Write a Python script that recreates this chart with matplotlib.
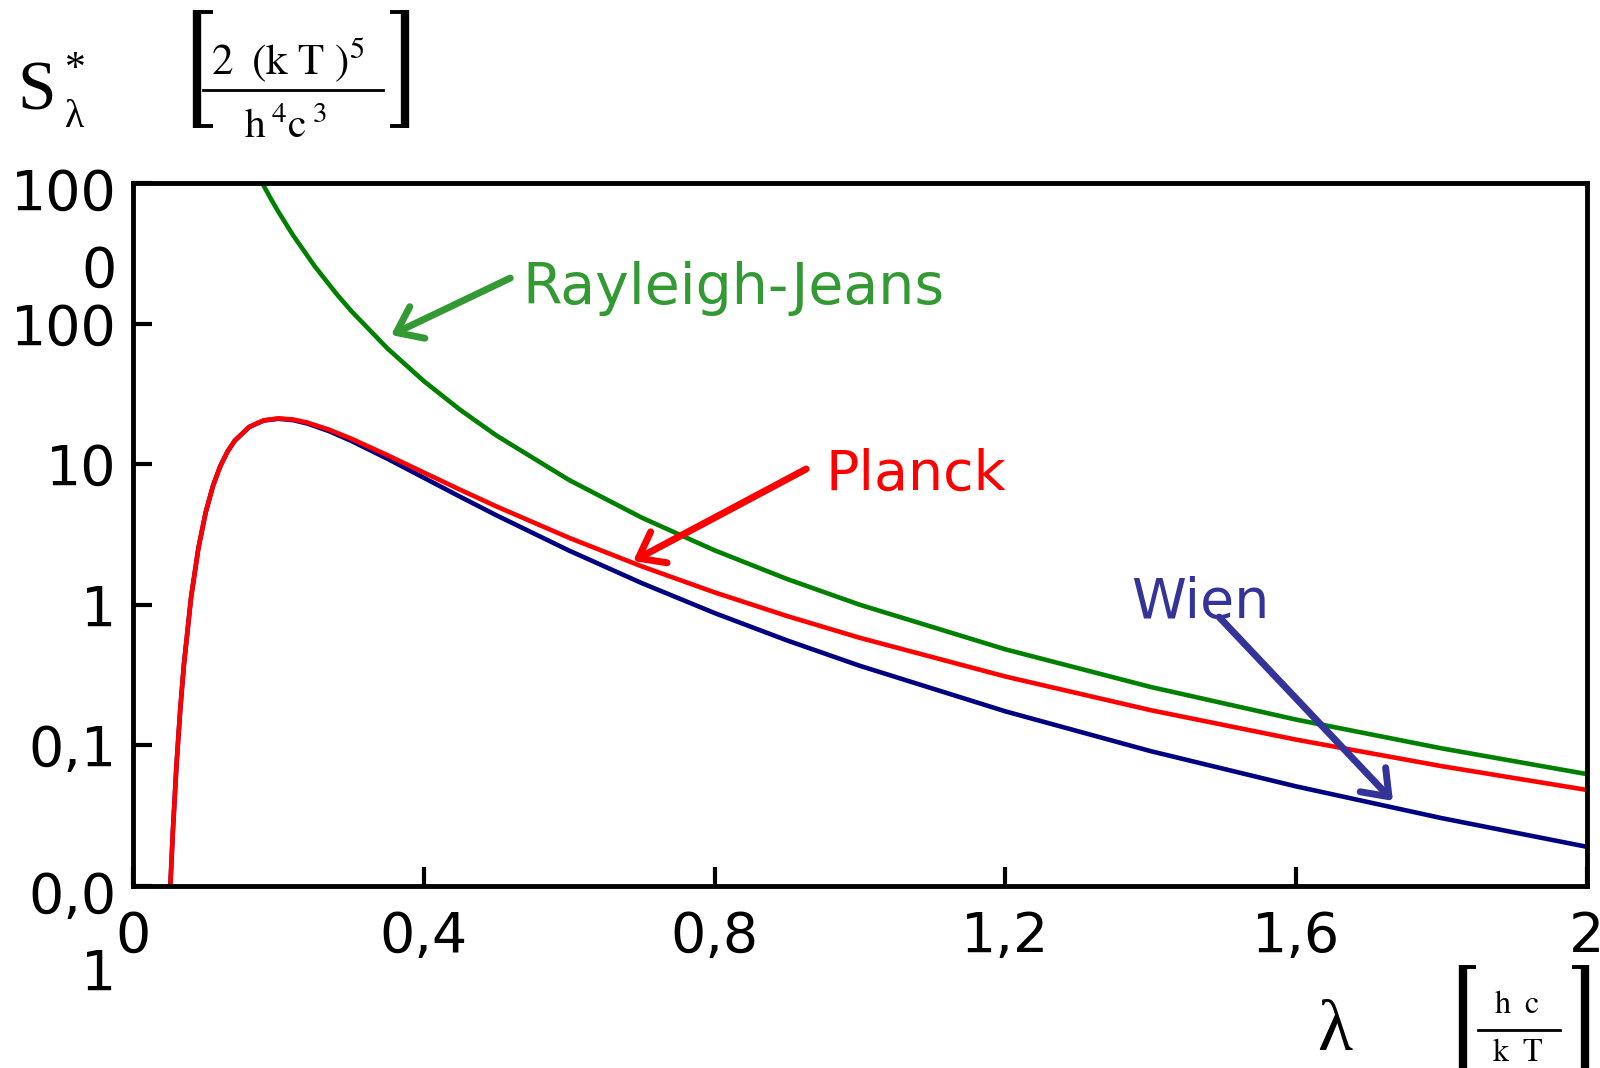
import matplotlib
matplotlib.use('Agg')
import matplotlib.pyplot as plt
from matplotlib.lines import Line2D
from matplotlib.transforms import ScaledTranslation

## wavelength grid (units of hc/kT) and spectral radiance values
lam_pw = [0.0515, 0.055, 0.06, 0.065, 0.07, 0.08, 0.09, 0.10, 0.11, 0.12, 0.13, 0.14,
          0.16, 0.18, 0.20, 0.22, 0.24, 0.27, 0.30, 0.35, 0.40, 0.45, 0.50, 0.60,
          0.70, 0.80, 0.90, 1.0, 1.2, 1.4, 1.6, 1.8, 2.0]
planck = [0.0102, 0.0252, 0.0743, 0.179, 0.372, 1.137, 2.531, 4.540, 6.997, 9.662, 12.30, 14.71,
          18.45, 20.54, 21.20, 20.82, 19.78, 17.60, 15.22, 11.60, 8.733, 6.587, 5.009, 2.995,
          1.876, 1.226, 0.831, 0.582, 0.309, 0.178, 0.1099, 0.0712, 0.0482]
wien = [0.0102, 0.0252, 0.0743, 0.179, 0.372, 1.137, 2.531, 4.540, 6.997, 9.660, 12.29, 14.70,
        18.41, 20.46, 21.06, 20.60, 19.47, 17.17, 14.68, 10.94, 8.016, 5.873, 4.331, 2.429,
        1.426, 0.874, 0.5575, 0.368, 0.1747, 0.0910, 0.0511, 0.0304, 0.0190]
lam_rj = [0.1778, 0.19, 0.20, 0.22, 0.25, 0.28, 0.30, 0.35, 0.40, 0.45, 0.50, 0.60, 0.70,
          0.80, 0.90, 1.0, 1.2, 1.4, 1.6, 1.8, 2.0]
rayleigh = [1000, 767.3, 625, 426.9, 256, 162.7, 123.5, 66.64, 39.06, 24.39, 16, 7.716, 4.165,
            2.441, 1.524, 1.0, 0.4823, 0.2603, 0.1526, 0.0953, 0.0625]

xticks = [0, 0.4, 0.8, 1.2, 1.6, 2.0]
xtick_labels = ['0', '0,4', '0,8', '1,2', '1,6', '2']
yticks = [0.01, 0.1, 1, 10, 100, 1000]
ytick_labels = ['0,0\n1', '0,1', '1', '10', '100', '100\n0']

plt.rcParams['mathtext.fontset'] = 'stix'

W, H = 1600, 1068
fig = plt.figure(figsize=(16, 10.68), dpi=100)
ax = fig.add_axes([0.0831, 0.1704, 0.9088, 0.6582])

ax.plot(lam_pw, wien, color='#000080', lw=3.3)
ax.plot(lam_pw, planck, color='#ff0000', lw=3.3)
ax.plot(lam_rj, rayleigh, color='#008000', lw=3.3)

ax.set_yscale('log')
ax.set_xlim(0, 2)
ax.set_ylim(0.01, 1000)
ax.set_xticks(xticks)
ax.set_xticklabels(xtick_labels)
ax.set_yticks(yticks)
ax.set_yticklabels(ytick_labels)
ax.minorticks_off()
ax.tick_params(direction='in', length=14, width=3, labelsize=40, color='black')
ax.tick_params(axis='x', pad=17)
ax.tick_params(axis='y', pad=12)
for lab in ax.get_yticklabels():
    lab.set_linespacing(1.55)
    lab.set_multialignment('right')
    if '\n' in lab.get_text():
        # wrapped labels hang below their tick
        lab.set_va('top')
        lab.set_transform(lab.get_transform() + ScaledTranslation(0, 0.15, fig.dpi_scale_trans))
for sp in ax.spines.values():
    sp.set_linewidth(3.5)

## curve labels with arrows
arr = dict(arrowstyle='->,head_length=0.4,head_width=0.3', mutation_scale=42,
           lw=5, shrinkA=0, shrinkB=0)
ax.annotate('', xy=(0.355, 83), xytext=(0.519, 211), arrowprops=dict(arr, color='#339933'))
ax.text(0.535, 179, 'Rayleigh-Jeans', color='#339933', fontsize=41, va='center', ha='left')
ax.annotate('', xy=(0.688, 2.05), xytext=(0.926, 9.25), arrowprops=dict(arr, color='#ff0000'))
ax.text(0.953, 8.37, 'Planck', color='#ff0000', fontsize=40, va='center', ha='left')
ax.annotate('', xy=(1.733, 0.0403), xytext=(1.494, 0.818), arrowprops=dict(arr, color='#333399'))
ax.text(1.373, 1.03, 'Wien', color='#333399', fontsize=40, va='center', ha='left')


def px(x, y):
    return x / W, 1 - y / H


def bracket(x_bar, x_tip, y0, y1):
    ## vertical stroke plus two thin arms, in figure pixels
    fx0, fy0 = px(x_bar, y0)
    fx1, fy1 = px(x_bar, y1)
    fig.add_artist(Line2D([fx0, fx1], [fy0, fy1], lw=6, color='black',
                          transform=fig.transFigure, solid_capstyle='butt'))
    for y in (y0 + 2, y1 - 2):
        ax0, ay = px(x_bar, y)
        ax1, _ = px(x_tip, y)
        fig.add_artist(Line2D([ax0, ax1], [ay, ay], lw=2.8, color='black',
                              transform=fig.transFigure, solid_capstyle='butt'))


def hline(x0, x1, y):
    a, b = px(x0, y)
    c, _ = px(x1, y)
    fig.add_artist(Line2D([a, c], [b, b], lw=2, color='black', transform=fig.transFigure))


## y-axis title with units
serif = 'Liberation Serif'
fig.text(*px(17, 110), 'S', family=serif, fontsize=50, va='baseline', ha='left')
fig.text(*px(65, 51), '*', family=serif, fontsize=30, va='top', ha='left')
fig.text(*px(65, 127), 'λ', family=serif, fontsize=29, va='baseline', ha='left')
bracket(197, 213, 10, 128)
bracket(405, 390, 10, 128)
hline(203, 383, 90)
fig.text(*px(288, 75), r'$\mathrm{2\ \;(k\ T\ )^{5}}$', fontsize=31, va='baseline', ha='center')
fig.text(*px(286, 138), r'$\mathrm{h^{\;4}c^{\;3}}$', fontsize=30, va='baseline', ha='center')

## x-axis title with units
fig.text(*px(1317, 1050), 'λ', family=serif, fontsize=52, va='baseline', ha='left')
bracket(1463, 1476, 965, 1100)
bracket(1585, 1572, 965, 1100)
hline(1478, 1560, 1030)
fig.text(*px(1517, 1013), r'$\mathrm{h\;\ c}$', fontsize=23, va='baseline', ha='center')
fig.text(*px(1517, 1061), r'$\mathrm{k\;\ T}$', fontsize=23, va='baseline', ha='center')

fig.savefig('out.png')
